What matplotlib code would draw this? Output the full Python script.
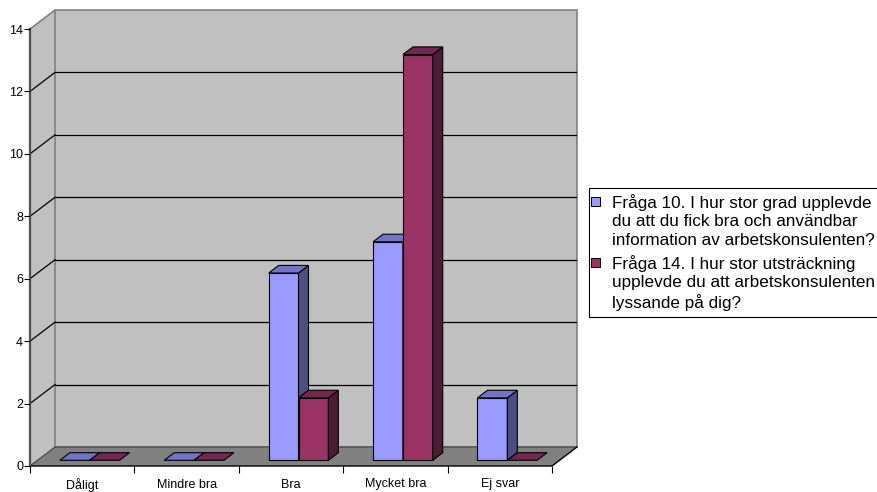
import matplotlib
matplotlib.use("Agg")
import matplotlib.pyplot as plt
from matplotlib.patches import Polygon, Rectangle

plt.rcParams['font.family'] = ['Liberation Sans', 'DejaVu Sans']

# data
kategorier = ["Dåligt", "Mindre bra", "Bra", "Mycket bra", "Ej svar"]
fraga10 = [0, 0, 6, 7, 2]
fraga14 = [0, 0, 2, 13, 0]
serie_namn = [
    "Fråga 10. I hur stor grad upplevde\ndu att du fick bra och användbar\ninformation av arbetskonsulenten?",
    "Fråga 14. I hur stor utsträckning\nupplevde du att arbetskonsulenten\nlyssande på dig?",
]
yticks = [0, 2, 4, 6, 8, 10, 12, 14]

# colours: front, top, side
farger = [("#9999FF", "#7373C8", "#4D4D80"), ("#993366", "#732650", "#4D1A33")]

W, H = 878, 492
fig = plt.figure(figsize=(W / 100, H / 100), dpi=100)
fig.patch.set_facecolor("white")

n = len(kategorier)
ymax = yticks[-1]
# oblique depth offset in data units (about 25 px right, 19 px up)
DX = 25 / 104.4
DY = 19 / 31.21

ax = fig.add_axes([30 / W, (H - 466) / H, 547 / W, 456 / H])
ax.set_xlim(0, n + DX)
ax.set_ylim(0, ymax + DY)
for s in ax.spines.values():
    s.set_visible(False)
ax.patch.set_visible(False)


def P(x, v, d):
    return (x + d * DX, v + d * DY)


def poly(pts, fc, ec="black", lw=0.8, z=1):
    ax.add_patch(Polygon(pts, closed=True, facecolor=fc, edgecolor=ec, linewidth=lw, zorder=z, clip_on=False))


# walls and floor
poly([P(0, 0, 0), P(0, 0, 1), P(0, ymax, 1), P(0, ymax, 0)], "#C0C0C0", ec="none", z=0)
poly([P(0, 0, 1), P(n, 0, 1), P(n, ymax, 1), P(0, ymax, 1)], "#C0C0C0", ec="#808080", lw=1.2, z=0)
poly([P(0, 0, 0), P(n, 0, 0), P(n, 0, 1), P(0, 0, 1)], "#808080", ec="none", z=0)

for v in yticks[1:-1]:
    ax.plot(*zip(P(0, v, 1), P(n, v, 1)), color="black", lw=0.9, zorder=0.5)
    ax.plot(*zip(P(0, v, 0), P(0, v, 1)), color="black", lw=0.9, zorder=0.5)
ax.plot(*zip(P(0, ymax, 0), P(0, ymax, 1)), color="#808080", lw=1.2, zorder=0.5)
ax.plot(*zip(P(0, 0, 0), P(0, 0, 1), P(n, 0, 1)), color="#404040", lw=0.8, zorder=0.5)
ax.plot(*zip(P(0, 0, 0), P(n, 0, 0), P(n, 0, 1)), color="black", lw=1.0, zorder=0.6, clip_on=False)
ax.plot(*zip(P(0, 0, 0), P(0, ymax, 0)), color="#505050", lw=1.6, zorder=0.6, clip_on=False)

# bars
gap = 1.5
bw = 1 / (2 + gap)
d0, d1 = 0.3, 0.7
for i in range(n):
    for j, vals in enumerate([fraga10, fraga14]):
        v = vals[i]
        front, top, side = farger[j]
        x0 = i + gap * bw / 2 + j * bw
        x1 = x0 + bw
        if v > 0:
            poly([P(x0, 0, d0), P(x1, 0, d0), P(x1, v, d0), P(x0, v, d0)], front, z=2)
            poly([P(x1, 0, d0), P(x1, 0, d1), P(x1, v, d1), P(x1, v, d0)], side, z=2)
        poly([P(x0, v, d0), P(x1, v, d0), P(x1, v, d1), P(x0, v, d1)], top, z=2)

# ticks
ax.set_yticks(yticks)
ax.set_yticklabels([str(t) for t in yticks])
ax.tick_params(axis="y", length=4, width=0.8, color="black", labelsize=9, pad=1)
ax.set_xticks(range(n + 1))
ax.set_xticklabels([])
ax.set_xticks([i + 0.5 for i in range(n)], minor=True)
ax.set_xticklabels(kategorier, minor=True)
ax.tick_params(axis="x", which="major", length=5, width=0.8, color="black")
ax.tick_params(axis="x", which="minor", length=0, labelsize=9, pad=9)

# legend
fig.add_artist(Rectangle((589 / W, (H - 317) / H), 300 / W, 129 / H, transform=fig.transFigure,
                         fill=False, edgecolor="black", linewidth=0.8))
ytops = [194, 255]
for j, namn in enumerate(serie_namn):
    y = ytops[j]
    fig.add_artist(Rectangle((591 / W, (H - y - 12) / H), 9 / W, 9 / H, transform=fig.transFigure,
                             facecolor=farger[j][0], edgecolor="black", linewidth=0.7))
    fig.text(612 / W, (H - y) / H, namn, fontsize=12.3, va="top", ha="left", linespacing=1.28)

fig.savefig("out.png", dpi=100)
